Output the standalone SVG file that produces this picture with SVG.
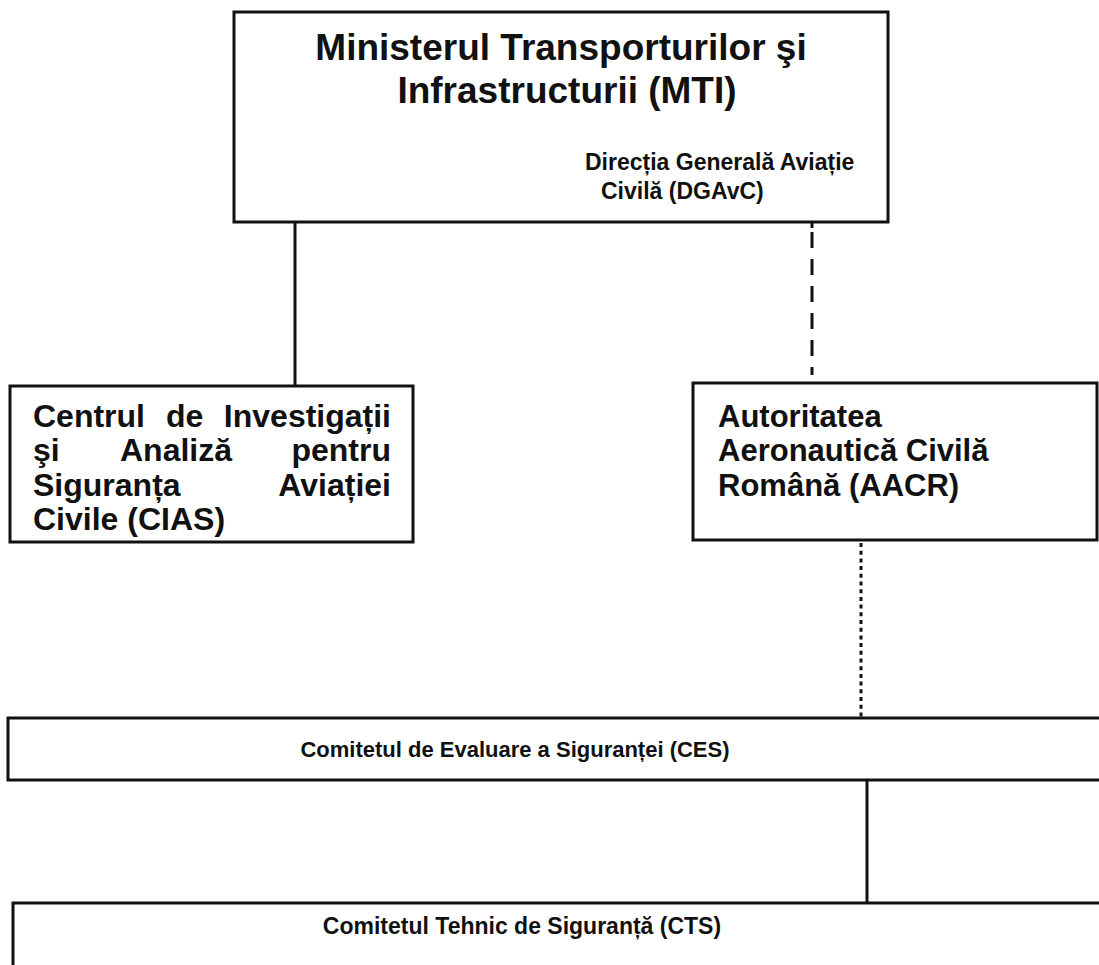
<svg xmlns="http://www.w3.org/2000/svg" width="1099" height="965" viewBox="0 0 1099 965">
<style>
.box{fill:#fff;stroke:#111;stroke-width:3}
.t{font-family:"Liberation Sans",Arial,sans-serif;font-weight:bold;fill:#111}
.big{font-size:32px}
.c{stroke:#111;stroke-width:3;fill:none}
</style>
<rect width="1099" height="965" fill="#fff"/>
<g id="connectors">
<line class="c" x1="812" y1="222" x2="812" y2="228"/>
<line class="c" x1="295" y1="222" x2="295" y2="386"/>
<line class="c" x1="812" y1="232" x2="812" y2="375" stroke-dasharray="16 11"/>
<line class="c" x1="861" y1="543" x2="861" y2="717" stroke-width="4" stroke-dasharray="4 3.7"/>
<line class="c" x1="867" y1="780" x2="867" y2="903"/>
</g>
<g id="mti">
<rect class="box" x="234" y="12" width="654" height="210"/>
<text class="t" font-size="37" x="561" y="60" text-anchor="middle">Ministerul Transporturilor şi</text>
<text class="t" font-size="37" x="567" y="103" text-anchor="middle">Infrastructurii (MTI)</text>
<text class="t" font-size="23" x="585" y="170">Direcția Generală Aviație</text>
<text class="t" font-size="23" x="601" y="199">Civilă (DGAvC)</text>
</g>
<g id="cias">
<rect class="box" x="10" y="386" width="403" height="156"/>
<text class="t big" x="33" y="427">Centrul</text>
<text class="t big" x="166" y="427">de</text>
<text class="t big" x="391" y="427" text-anchor="end">Investigații</text>
<text class="t big" x="33" y="461">şi</text>
<text class="t big" x="120" y="461">Analiză</text>
<text class="t big" x="391" y="461" text-anchor="end">pentru</text>
<text class="t big" x="33" y="496">Siguranța</text>
<text class="t big" x="391" y="496" text-anchor="end">Aviației</text>
<text class="t big" x="33" y="530">Civile (CIAS)</text>
</g>
<g id="aacr">
<rect class="box" x="693" y="383" width="404" height="157"/>
<text class="t" font-size="31" x="718" y="427">Autoritatea</text>
<text class="t" font-size="31" x="718" y="461">Aeronautică Civilă</text>
<text class="t" font-size="31" x="718" y="496">Română (AACR)</text>
</g>
<g id="ces">
<rect class="box" x="8" y="718" width="1100" height="62"/>
<text class="t" font-size="22" x="515" y="757" text-anchor="middle">Comitetul de Evaluare a Siguranței (CES)</text>
</g>
<g id="cts">
<rect class="box" x="13" y="903" width="1100" height="80"/>
<text class="t" font-size="23" x="522" y="934" text-anchor="middle">Comitetul Tehnic de Siguranță (CTS)</text>
</g>
</svg>
